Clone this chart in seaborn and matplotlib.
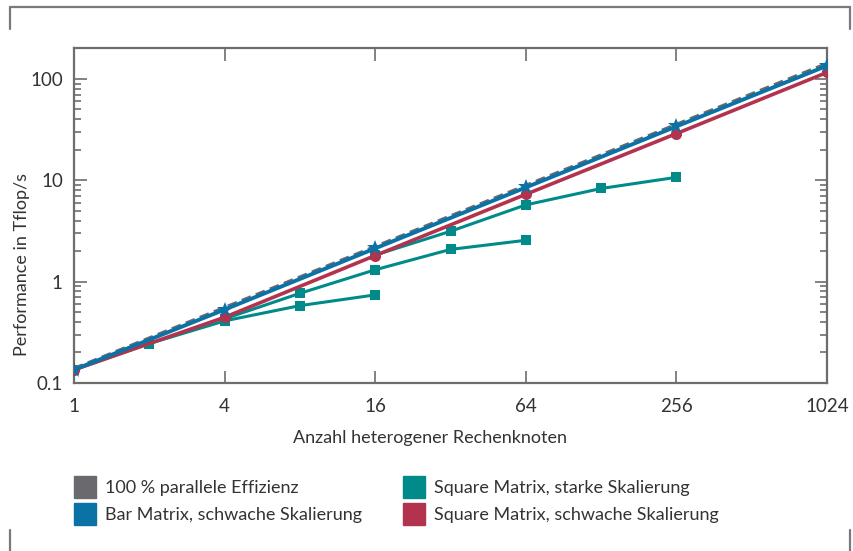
import pandas as pd
import matplotlib
matplotlib.use('Agg')
import matplotlib.pyplot as plt
import seaborn as sns
from matplotlib.patches import Patch
from matplotlib.lines import Line2D
from matplotlib.ticker import FixedLocator, NullFormatter, LogLocator

# data
nodes_weak = [1, 4, 16, 64, 256, 1024]
ideal = [0.137, 0.548, 2.19, 8.77, 35.1, 140.3]
bar_weak = [0.135, 0.53, 2.13, 8.5, 34.0, 135.0]
square_weak = [0.135, 0.445, 1.81, 7.27, 28.9, 116.0]

strong_a_x = [1, 2, 4, 8, 16]
strong_a_y = [0.135, 0.245, 0.41, 0.58, 0.74]
strong_b_x = [4, 8, 16, 32, 64]
strong_b_y = [0.43, 0.767, 1.31, 2.08, 2.56]
strong_c_x = [16, 32, 64, 128, 256]
strong_c_y = [1.83, 3.14, 5.72, 8.3, 10.7]

xticks = [1, 4, 16, 64, 256, 1024]
yticks = [0.1, 1, 10, 100]
labels = ['100 % parallele Effizienz', 'Bar Matrix, schwache Skalierung',
          'Square Matrix, starke Skalierung', 'Square Matrix, schwache Skalierung']

c_grey = '#6a6a6e'
c_blue = '#0b72a6'
c_teal = '#008b8a'
c_red = '#b3334f'
c_axis = '#6d6d6d'
c_text = '#333333'

sns.set_style('ticks')
plt.rcParams['font.family'] = ['Lato', 'DejaVu Sans']
plt.rcParams['text.color'] = c_text
plt.rcParams['axes.labelcolor'] = c_text
plt.rcParams['xtick.color'] = c_axis
plt.rcParams['ytick.color'] = c_axis
plt.rcParams['xtick.labelcolor'] = c_text
plt.rcParams['ytick.labelcolor'] = c_text

fig = plt.figure(figsize=(8.54, 5.51), dpi=100)
ax = fig.add_axes([74 / 854, 1 - 383 / 551, (827 - 74) / 854, (383 - 48) / 551])

strong = pd.DataFrame({
    'x': strong_a_x + strong_b_x + strong_c_x,
    'y': strong_a_y + strong_b_y + strong_c_y,
    'run': ['a'] * 5 + ['b'] * 5 + ['c'] * 5,
})

sns.lineplot(x=strong['x'], y=strong['y'], units=strong['run'], estimator=None,
             color=c_teal, lw=2.2, marker='s', markersize=7, markeredgewidth=0,
             ax=ax, legend=False, zorder=3)
sns.lineplot(x=nodes_weak, y=square_weak, color=c_red, lw=2.6, marker='o',
             markersize=8, markeredgewidth=0, ax=ax, legend=False, zorder=4)
sns.lineplot(x=nodes_weak, y=ideal, color=c_grey, lw=3.2,
             ax=ax, legend=False, zorder=5)
ax.lines[-1].set_linestyle((0, (2.2, 1.2)))
sns.lineplot(x=nodes_weak, y=bar_weak, color=c_blue, lw=2.8, marker='*',
             markersize=12, markeredgewidth=0, ax=ax, legend=False, zorder=6)

ax.set_xscale('log', base=2)
ax.set_yscale('log')
ax.set_xlim(1, 1024)
ax.set_ylim(0.1, 202)
ax.set_xticks(xticks)
ax.set_xticklabels([str(t) for t in xticks])
ax.xaxis.set_minor_locator(FixedLocator([]))
ax.set_yticks(yticks)
ax.set_yticklabels(['0.1', '1', '10', '100'])
ax.yaxis.set_minor_locator(LogLocator(base=10, subs=range(2, 10)))
ax.yaxis.set_minor_formatter(NullFormatter())

ax.tick_params(which='both', direction='in', top=True, right=True, width=1.2,
               labelsize=13.5)
ax.tick_params(axis='x', pad=11)
ax.tick_params(axis='y', pad=8)
ax.tick_params(which='major', length=9)
ax.tick_params(which='minor', length=5)
for s in ax.spines.values():
    s.set_color(c_axis)
    s.set_linewidth(1.6)

ax.set_xlabel('Anzahl heterogener Rechenknoten', fontsize=13)
ax.xaxis.set_label_coords((430 - 74) / 753, -(438 - 383) / 335, transform=ax.transAxes)
ax.set_ylabel('Performance in Tflop/s', fontsize=13)
ax.yaxis.set_label_coords(-(74 - 22) / 753, (383 - 264) / 335, transform=ax.transAxes)
ax.xaxis.label.set_verticalalignment('center')
ax.yaxis.label.set_verticalalignment('center')

handles = [Patch(color=c) for c in [c_grey, c_blue, c_teal, c_red]]
fig.legend(handles, labels, ncol=2, loc='upper left', bbox_to_anchor=(74 / 854, 1 - 476 / 551),
           frameon=False, fontsize=13, handlelength=1.2, handleheight=1.5,
           handletextpad=0.5, columnspacing=2.3, labelspacing=0.3, borderaxespad=0,
           borderpad=0)

# decorative frame
for xs, ys in [([10, 850], [7, 7]), ([10, 10], [7, 29]), ([850, 850], [7, 29]),
               ([10, 10], [530, 551]), ([850, 850], [530, 551])]:
    fig.add_artist(Line2D([x / 854 for x in xs], [1 - y / 551 for y in ys],
                          color='#7a7a7a', lw=1.6))

fig.savefig('out.png', dpi=100)
